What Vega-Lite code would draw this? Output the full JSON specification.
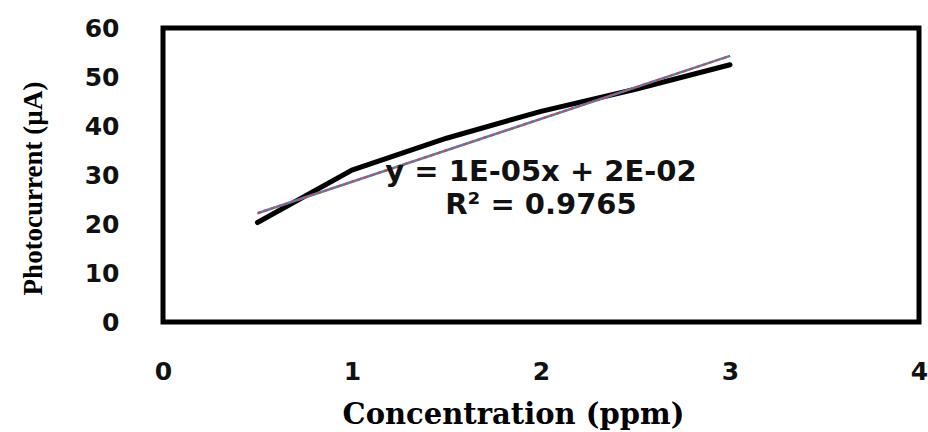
{
  "$schema": "https://vega.github.io/schema/vega-lite/v6.json",
  "width": 756,
  "height": 294,
  "autosize": {"type": "none"},
  "padding": {"left": 163, "top": 28, "right": 9, "bottom": 110},
  "background": "white",
  "config": {
    "view": {"stroke": "black", "strokeWidth": 5},
    "axis": {
      "grid": false,
      "ticks": false,
      "domain": false,
      "labelFlush": false,
      "labelFont": "DejaVu Sans",
      "labelFontWeight": "bold",
      "labelFontSize": 25,
      "labelColor": "#111111",
      "titleColor": "#000000"
    }
  },
  "datasets": {
    "measured": [
      {"conc": 0.5, "current": 20.3},
      {"conc": 1.0, "current": 31.0},
      {"conc": 1.5, "current": 37.5},
      {"conc": 2.0, "current": 43.0},
      {"conc": 2.5, "current": 47.5},
      {"conc": 3.0, "current": 52.5}
    ],
    "trend": [
      {"conc": 0.5, "current": 22.2},
      {"conc": 3.0, "current": 54.3}
    ],
    "notes": [
      {"conc": 2.0, "current": 30.6, "label": "y = 1E-05x + 2E-02"},
      {"conc": 2.0, "current": 23.9, "label": "R² = 0.9765"}
    ]
  },
  "layer": [
    {
      "data": {"name": "measured"},
      "mark": {"type": "line", "color": "black", "strokeWidth": 5, "strokeCap": "round"},
      "encoding": {
        "x": {
          "field": "conc", "type": "quantitative",
          "scale": {"domain": [0, 4], "nice": false},
          "axis": {
            "values": [0, 1, 2, 3, 4],
            "format": "d",
            "labelPadding": 37,
            "title": "Concentration (ppm)",
            "titleFont": "DejaVu Serif",
            "titleFontWeight": "bold",
            "titleFontSize": 29,
            "titleBaseline": "alphabetic",
            "titleAnchor": "middle",
            "titleX": 350,
            "titleY": 101
          }
        },
        "y": {
          "field": "current", "type": "quantitative",
          "scale": {"domain": [0, 60], "nice": false},
          "axis": {
            "values": [0, 10, 20, 30, 40, 50, 60],
            "format": "d",
            "labelPadding": 44,
            "title": "Photocurrent (µA)",
            "titleFont": "Liberation Serif",
            "titleFontWeight": "bold",
            "titleFontSize": 27,
            "titleBaseline": "alphabetic",
            "titleAngle": -90,
            "titleAlign": "center",
            "titleX": -122,
            "titleY": 160
          }
        }
      }
    },
    {
      "data": {"name": "trend"},
      "mark": {"type": "line", "color": "#4F81BD", "strokeWidth": 2.5},
      "encoding": {
        "x": {"field": "conc", "type": "quantitative"},
        "y": {"field": "current", "type": "quantitative"}
      }
    },
    {
      "data": {"name": "trend"},
      "mark": {"type": "line", "color": "#C0504D", "strokeWidth": 2, "strokeDash": [4, 3]},
      "encoding": {
        "x": {"field": "conc", "type": "quantitative"},
        "y": {"field": "current", "type": "quantitative"}
      }
    },
    {
      "data": {"name": "notes"},
      "mark": {"type": "text", "font": "DejaVu Sans", "fontWeight": "bold", "fontSize": 29, "color": "#111111", "align": "center", "baseline": "middle"},
      "encoding": {
        "x": {"field": "conc", "type": "quantitative"},
        "y": {"field": "current", "type": "quantitative"},
        "text": {"field": "label"}
      }
    }
  ]
}
